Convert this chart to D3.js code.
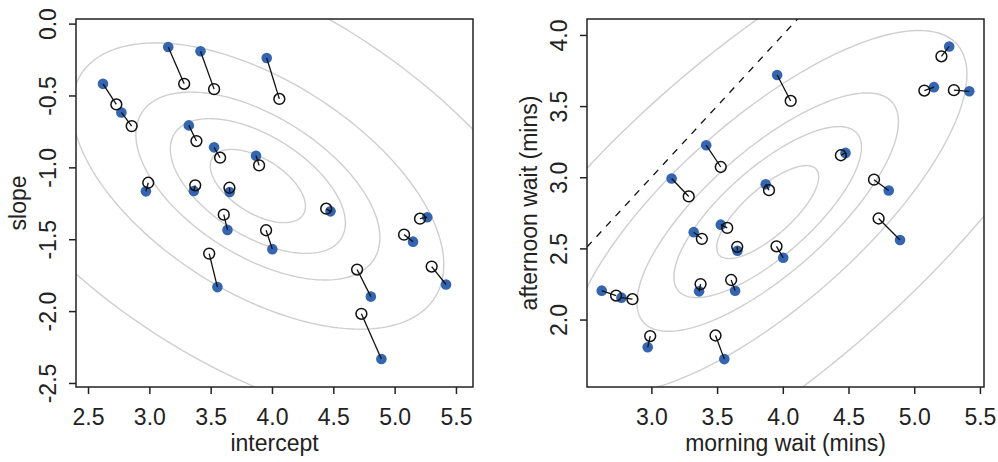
<!DOCTYPE html>
<html>
<head>
<meta charset="utf-8">
<script src="https://cdn.jsdelivr.net/npm/d3@7"></script>
<style>
  html, body { margin: 0; padding: 0; background: #fff; }
  svg { display: block; font-family: "Liberation Sans", Arial, Helvetica, sans-serif; }
</style>
</head>
<body>
<svg id="chart" width="998" height="462"></svg>
<script>
// ---- data: per-cafe estimates (unpooled = filled, partially pooled = open) ----
const cafes = d3.range(1, 21);
const interceptRaw = [2.622, 2.772, 3.154, 3.417, 3.957, 3.322, 3.528, 3.870, 2.972, 3.363, 3.655, 3.637, 4.003, 3.555, 4.477, 5.266, 5.150, 5.419, 4.806, 4.892];
const slopeRaw     = [-0.419, -0.618, -0.1625, -0.192, -0.239, -0.708, -0.861, -0.919, -1.167, -1.165, -1.172, -1.435, -1.569, -1.833, -1.306, -1.347, -1.517, -1.815, -1.899, -2.333];
const interceptPooled = [2.731, 2.856, 3.284, 3.528, 4.060, 3.384, 3.577, 3.895, 2.991, 3.374, 3.653, 3.607, 3.952, 3.488, 4.442, 5.207, 5.077, 5.302, 4.694, 4.729];
const slopePooled     = [-0.5625, -0.713, -0.419, -0.456, -0.524, -0.817, -0.933, -0.986, -1.107, -1.125, -1.142, -1.329, -1.4375, -1.600, -1.2875, -1.357, -1.468, -1.690, -1.711, -2.019];

// posterior mean population (mean intercept, mean slope), sds and correlation
const popMean = [3.885, -1.13];
const popSd = [0.845, 0.555];
const popRho = [-0.55];
const contourLevels = [0.1, 0.3, 0.5, 0.8, 0.99];

// axis ticks
const leftXTicks = [2.5, 3.0, 3.5, 4.0, 4.5, 5.0, 5.5];
const leftYTicks = [0.0, -0.5, -1.0, -1.5, -2.0, -2.5];
const rightXTicks = [3.0, 3.5, 4.0, 4.5, 5.0, 5.5];
const rightYTicks = [2.0, 2.5, 3.0, 3.5, 4.0];

// ---- drawing ----
const svg = d3.select("#chart");
const BLUE = "#3465b0";
const FS = 23;

function ellipsePts(sx, sy, r, cx, cy, level, n) {
  const t = Math.sqrt(-2 * Math.log(1 - level));
  const d = Math.acos(r);
  return d3.range(n + 1).map(i => {
    const a = 2 * Math.PI * i / n;
    return [cx + t * sx * Math.cos(a + d / 2), cy + t * sy * Math.cos(a - d / 2)];
  });
}

const fmt = v => (Math.abs(v) < 1e-9 ? "0.0" : v.toFixed(1));

function panel(opts) {
  const { id, x0, x1, y0, y1, xDomain, yDomain, xTicks, yTicks, xLabel, yLabel,
          filled, open, ellipse } = opts;
  const x = d3.scaleLinear().domain(xDomain).range([x0, x1]);
  const y = d3.scaleLinear().domain(yDomain).range([y1, y0]);
  const g = svg.append("g");

  g.append("clipPath").attr("id", "clip-" + id)
    .append("rect").attr("x", x0).attr("y", y0).attr("width", x1 - x0).attr("height", y1 - y0);

  const plot = g.append("g").attr("clip-path", `url(#clip-${id})`);

  // contours
  const line = d3.line().x(d => x(d[0])).y(d => y(d[1]));
  contourLevels.forEach(l => {
    plot.append("path")
      .attr("d", line(ellipsePts(ellipse.sx, ellipse.sy, ellipse.r, ellipse.cx, ellipse.cy, l, 200)))
      .attr("fill", "none").attr("stroke", "#cfcfcf").attr("stroke-width", 1.4);
  });

  if (opts.extra) opts.extra(plot, x, y);

  // points & connectors
  plot.selectAll("circle.raw").data(filled).enter().append("circle")
    .attr("class", "raw").attr("cx", d => x(d[0])).attr("cy", d => y(d[1]))
    .attr("r", 5.3).attr("fill", BLUE);
  plot.selectAll("circle.pool").data(open).enter().append("circle")
    .attr("class", "pool").attr("cx", d => x(d[0])).attr("cy", d => y(d[1]))
    .attr("r", 5.4).attr("fill", "none").attr("stroke", "#111").attr("stroke-width", 1.5);
  plot.selectAll("line.conn").data(filled).enter().append("line")
    .attr("x1", d => x(d[0])).attr("y1", d => y(d[1]))
    .attr("x2", (d, i) => x(open[i][0])).attr("y2", (d, i) => y(open[i][1]))
    .attr("stroke", "#111").attr("stroke-width", 1.3);

  // box
  g.append("rect").attr("x", x0).attr("y", y0).attr("width", x1 - x0).attr("height", y1 - y0)
    .attr("fill", "none").attr("stroke", "#222").attr("stroke-width", 1.5);

  // axes
  const xa = g.append("g").attr("transform", `translate(0,${y1})`)
    .call(d3.axisBottom(x).tickValues(xTicks).tickFormat(fmt).tickSize(7));
  xa.select(".domain").remove();
  xa.selectAll(".tick line").attr("stroke", "#222").attr("stroke-width", 1.5);
  xa.selectAll(".tick text").attr("y", 38).attr("dy", 0)
    .attr("font-size", FS).attr("font-family", "Liberation Sans, Arial, sans-serif").attr("fill", "#222");

  const ya = g.append("g").attr("transform", `translate(${x0},0)`)
    .call(d3.axisLeft(y).tickValues(yTicks).tickFormat(fmt).tickSize(7));
  ya.select(".domain").remove();
  ya.selectAll(".tick line").attr("stroke", "#222").attr("stroke-width", 1.5);
  ya.selectAll(".tick text").attr("transform", "rotate(-90)")
    .attr("x", 0).attr("y", -20).attr("dy", 0).attr("text-anchor", "middle")
    .attr("font-size", FS).attr("font-family", "Liberation Sans, Arial, sans-serif").attr("fill", "#222");

  g.append("text").attr("x", (x0 + x1) / 2).attr("y", 451).attr("text-anchor", "middle")
    .attr("font-size", FS).attr("fill", "#222").text(xLabel);
  g.append("text").attr("transform", `translate(${x0 - 50},${(y0 + y1) / 2}) rotate(-90)`)
    .attr("text-anchor", "middle").attr("font-size", FS).attr("fill", "#222").text(yLabel);
}

// left panel: intercept vs slope
const rawLeft = cafes.map((c, i) => [interceptRaw[i], slopeRaw[i]]);
const poolLeft = cafes.map((c, i) => [interceptPooled[i], slopePooled[i]]);
panel({
  id: "l", x0: 76, x1: 473, y0: 19, y1: 387,
  xDomain: [2.402, 5.639], yDomain: [-2.528, 0.032],
  xTicks: leftXTicks, yTicks: leftYTicks, xLabel: "intercept", yLabel: "slope",
  filled: rawLeft, open: poolLeft,
  ellipse: { sx: popSd[0], sy: popSd[1], r: popRho[0], cx: popMean[0], cy: popMean[1] }
});

// right panel: morning wait = intercept, afternoon wait = intercept + slope
const rawRight = cafes.map((c, i) => [interceptRaw[i], interceptRaw[i] + slopeRaw[i]]);
const poolRight = cafes.map((c, i) => [interceptPooled[i], interceptPooled[i] + slopePooled[i]]);
const cAB = popRho[0] * popSd[0] * popSd[1];
const s2 = Math.sqrt(popSd[0] ** 2 + popSd[1] ** 2 + 2 * cAB);
const r2 = (popSd[0] ** 2 + cAB) / (popSd[0] * s2);
panel({
  id: "r", x0: 587, x1: 984, y0: 19, y1: 387,
  xDomain: [2.510, 5.531], yDomain: [1.526, 4.112],
  xTicks: rightXTicks, yTicks: rightYTicks, xLabel: "morning wait (mins)", yLabel: "afternoon wait (mins)",
  filled: rawRight, open: poolRight,
  ellipse: { sx: popSd[0], sy: s2, r: r2, cx: popMean[0], cy: popMean[0] + popMean[1] },
  extra: (plot, x, y) => {
    const d = x.domain();
    plot.append("line")
      .attr("x1", x(d[0])).attr("y1", y(d[0])).attr("x2", x(d[1])).attr("y2", y(d[1]))
      .attr("stroke", "#111").attr("stroke-width", 1.3).attr("stroke-dasharray", "7,7");
  }
});
</script>
</body>
</html>
